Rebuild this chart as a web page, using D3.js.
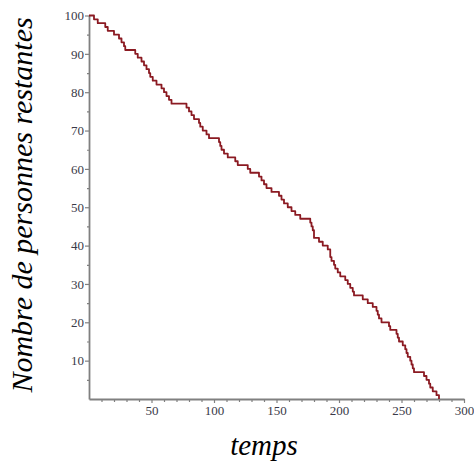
<!DOCTYPE html>
<html>
<head>
<meta charset="utf-8">
<script src="https://cdn.jsdelivr.net/npm/d3@7"></script>
<style>
  body { margin: 0; background: #fff; }
  svg { display: block; }
  .tick text { font-family: "Liberation Serif", serif; font-size: 13px; fill: #3a3a48; }
  .axis path, .axis line { stroke: #808080; }
</style>
</head>
<body>
<div class="container"></div>
<script>
//Size of the page and of the plot
var width = 474,
    height = 466,
    margin = {top: 15.5, right: 10, bottom: 67, left: 89};

//Data: time at which each person leaves (100 persons)
var startCount = 100;
var departures = [4, 7, 13, 15, 20, 24, 26, 28, 29, 37,
                  39, 42, 44, 46, 48, 49, 51, 54, 58, 60,
                  62, 64, 66, 78, 80, 82, 84, 88, 89, 91,
                  94, 96, 104, 105, 106, 108, 111, 117, 119, 127,
                  129, 136, 138, 140, 142, 146, 152, 154, 156, 159,
                  162, 165, 169, 177, 178, 179, 180, 180, 184, 187,
                  191, 193, 193, 194, 196, 197, 199, 201, 205, 207,
                  209, 211, 212, 219, 223, 227, 230, 231, 232, 234,
                  240, 241, 246, 247, 248, 251, 253, 254, 255, 257,
                  258, 259, 260, 268, 270, 272, 273, 275, 278, 280];
//Ticks
var xMajor = [50, 100, 150, 200, 250, 300];
var xMinor = [10, 20, 30, 40, 60, 70, 80, 90, 110, 120, 130, 140, 160, 170, 180, 190,
              210, 220, 230, 240, 260, 270, 280, 290];
var yMajor = [10, 20, 30, 40, 50, 60, 70, 80, 90, 100];
var yMinor = [5, 15, 25, 35, 45, 55, 65, 75, 85, 95];
var xTitle = "temps";
var yTitle = "Nombre de personnes restantes";

//points of the step curve
var pts = [{t: 0, n: startCount}];
departures.forEach(function(d, i) { pts.push({t: d, n: startCount - i - 1}); });

var x = d3.scaleLinear().domain([0, 300]).range([margin.left, width - margin.right]);
var y = d3.scaleLinear().domain([0, 100]).range([height - margin.bottom, margin.top]);

var svg = d3.select(".container").append("svg")
    .attr("width", width)
    .attr("height", height);

//minor ticks first, major on top
svg.append("g").attr("class", "axis")
    .attr("transform", "translate(0," + y(0) + ")")
    .call(d3.axisBottom(x).tickValues(xMinor).tickSize(3).tickFormat(""))
    .call(function(g) { g.select(".domain").remove(); });
svg.append("g").attr("class", "axis")
    .attr("transform", "translate(" + x(0) + ",0)")
    .call(d3.axisLeft(y).tickValues(yMinor).tickSize(2).tickFormat(""))
    .call(function(g) { g.select(".domain").remove(); });

var gx = svg.append("g").attr("class", "axis")
    .attr("transform", "translate(0," + y(0) + ")")
    .call(d3.axisBottom(x).tickValues(xMajor).tickSize(4).tickSizeOuter(0).tickPadding(3));
var gy = svg.append("g").attr("class", "axis")
    .attr("transform", "translate(" + x(0) + ",0)")
    .call(d3.axisLeft(y).tickValues(yMajor).tickSize(4).tickSizeOuter(0).tickPadding(1));
gx.attr("font-family", "Liberation Serif, serif");
gy.attr("font-family", "Liberation Serif, serif");
gx.select(".domain").attr("stroke-width", 1.8);
gy.select(".domain").attr("stroke-width", 1.8);
svg.selectAll(".axis .tick line").attr("stroke-width", 1.2);

//the curve
var line = d3.line()
    .x(function(d) { return x(d.t); })
    .y(function(d) { return y(d.n); })
    .curve(d3.curveStepAfter);
svg.append("path")
    .datum(pts)
    .attr("fill", "none")
    .attr("stroke", "#8b1a22")
    .attr("stroke-width", 1.8)
    .attr("stroke-linejoin", "round")
    .attr("d", line);

//titles
svg.append("text")
    .attr("x", 264).attr("y", 455)
    .attr("text-anchor", "middle")
    .style("font-family", "Liberation Serif, serif")
    .style("font-style", "italic")
    .style("font-size", "29px")
    .text(xTitle);
svg.append("text")
    .attr("transform", "translate(32,205) rotate(-90)")
    .attr("text-anchor", "middle")
    .style("font-family", "Liberation Serif, serif")
    .style("font-style", "italic")
    .style("font-size", "30px")
    .text(yTitle);
</script>
</body>
</html>
